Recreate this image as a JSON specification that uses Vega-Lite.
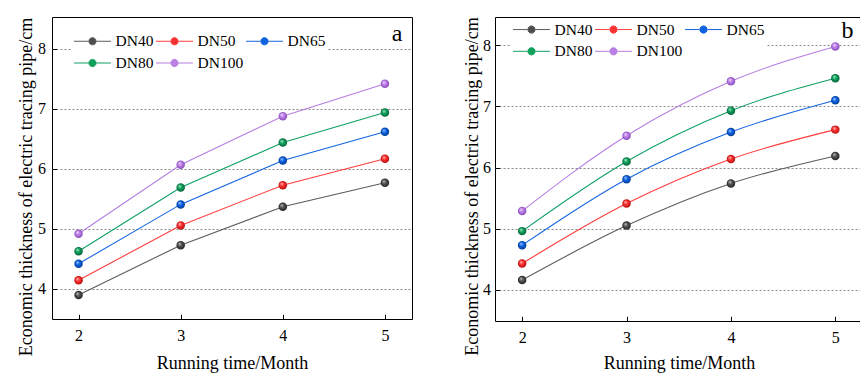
{
  "$schema": "https://vega.github.io/schema/vega-lite/v6.json",
  "padding": {"left": 17, "top": 16, "right": 0, "bottom": 0},
  "spacing": 50,
  "background": "white",
  "config": {
    "font": "Liberation Serif",
    "style": {"guide-label": {"font": "Liberation Serif"}, "guide-title": {"font": "Liberation Serif"}},
    "view": {"stroke": "#000", "strokeWidth": 1},
    "axis": {
      "domain": false,
      "labelFont": "Liberation Serif", "labelFontSize": 16, "labelColor": "#000",
      "titleFont": "Liberation Serif", "titleFontSize": 18, "titleFontWeight": "normal", "titleColor": "#000",
      "tickColor": "#000", "tickWidth": 1
    },
    "legend": {
      "labelFont": "Liberation Serif", "labelFontSize": 15.5, "labelColor": "#000", "labelFontWeight": "normal",
      "fillColor": "white", "padding": 2, "columnPadding": 0, "rowPadding": 5,
      "symbolSize": 210, "symbolOffset": 10.5, "labelOffset": 15, "symbolStrokeWidth": 1
    }
  },
  "datasets": {
    "a": [
      {"month": 2, "thickness": 3.9, "pipe": "DN40"}, {"month": 3, "thickness": 4.73, "pipe": "DN40"}, {"month": 4, "thickness": 5.37, "pipe": "DN40"}, {"month": 5, "thickness": 5.77, "pipe": "DN40"},
      {"month": 2, "thickness": 4.145, "pipe": "DN50"}, {"month": 3, "thickness": 5.06, "pipe": "DN50"}, {"month": 4, "thickness": 5.73, "pipe": "DN50"}, {"month": 5, "thickness": 6.17, "pipe": "DN50"},
      {"month": 2, "thickness": 4.42, "pipe": "DN65"}, {"month": 3, "thickness": 5.41, "pipe": "DN65"}, {"month": 4, "thickness": 6.14, "pipe": "DN65"}, {"month": 5, "thickness": 6.62, "pipe": "DN65"},
      {"month": 2, "thickness": 4.63, "pipe": "DN80"}, {"month": 3, "thickness": 5.69, "pipe": "DN80"}, {"month": 4, "thickness": 6.44, "pipe": "DN80"}, {"month": 5, "thickness": 6.94, "pipe": "DN80"},
      {"month": 2, "thickness": 4.92, "pipe": "DN100"}, {"month": 3, "thickness": 6.07, "pipe": "DN100"}, {"month": 4, "thickness": 6.88, "pipe": "DN100"}, {"month": 5, "thickness": 7.42, "pipe": "DN100"}
    ],
    "b": [
      {"month": 2, "thickness": 4.16, "pipe": "DN40"}, {"month": 3, "thickness": 5.05, "pipe": "DN40"}, {"month": 4, "thickness": 5.74, "pipe": "DN40"}, {"month": 5, "thickness": 6.19, "pipe": "DN40"},
      {"month": 2, "thickness": 4.43, "pipe": "DN50"}, {"month": 3, "thickness": 5.41, "pipe": "DN50"}, {"month": 4, "thickness": 6.14, "pipe": "DN50"}, {"month": 5, "thickness": 6.62, "pipe": "DN50"},
      {"month": 2, "thickness": 4.73, "pipe": "DN65"}, {"month": 3, "thickness": 5.81, "pipe": "DN65"}, {"month": 4, "thickness": 6.58, "pipe": "DN65"}, {"month": 5, "thickness": 7.10, "pipe": "DN65"},
      {"month": 2, "thickness": 4.96, "pipe": "DN80"}, {"month": 3, "thickness": 6.10, "pipe": "DN80"}, {"month": 4, "thickness": 6.93, "pipe": "DN80"}, {"month": 5, "thickness": 7.46, "pipe": "DN80"},
      {"month": 2, "thickness": 5.29, "pipe": "DN100"}, {"month": 3, "thickness": 6.52, "pipe": "DN100"}, {"month": 4, "thickness": 7.41, "pipe": "DN100"}, {"month": 5, "thickness": 7.98, "pipe": "DN100"}
    ]
  },
  "resolve": {"scale": {"color": "independent"}},
  "hconcat": [
    {
      "width": 360, "height": 302,
      "data": {"name": "a"},
      "encoding": {
        "x": {"field": "month", "type": "quantitative",
          "scale": {"domain": [1.74, 5.265], "nice": false, "zero": false},
          "axis": {"title": "Running time/Month", "values": [2, 2.5, 3, 3.5, 4, 4.5, 5], "format": "d",
            "labelExpr": "datum.value % 1 === 0 ? datum.label : ''", "grid": false,
            "labelFont": "Liberation Serif", "titleFont": "Liberation Serif",
            "tickSize": {"condition": {"test": "datum.value % 1 !== 0", "value": -2.5}, "value": -4.7},
            "labelPadding": 13, "titleY": 49, "titleBaseline": "alphabetic"}},
        "y": {"field": "thickness", "type": "quantitative",
          "scale": {"domain": [3.5, 8.533], "nice": false, "zero": false},
          "axis": {"title": "Economic thickness of electric tracing pipe/cm", "values": [4, 4.5, 5, 5.5, 6, 6.5, 7, 7.5, 8], "format": "d",
            "labelExpr": "datum.value % 1 === 0 ? datum.label : ''", "grid": true, "gridDash": [2, 2], "gridColor": "#888",
            "labelFont": "Liberation Serif", "titleFont": "Liberation Serif",
            "gridOpacity": {"condition": {"test": "datum.value % 1 !== 0", "value": 0}, "value": 1},
            "tickSize": {"condition": {"test": "datum.value % 1 !== 0", "value": -2.5}, "value": -4.5},
            "labelPadding": 11, "titleX": -20.5, "titleY": 169.5, "titleBaseline": "alphabetic", "titleAlign": "center"}}
      },
      "layer": [
        {"mark": {"type": "line", "strokeWidth": 1.1},
          "encoding": {"color": {"field": "pipe", "type": "nominal",
            "scale": {"domain": ["DN40", "DN50", "DN65", "DN80", "DN100"], "range": ["#5c5c5c", "#ff3c3c", "#1565e0", "#0fa062", "#b57ee0"]},
            "legend": {"orient": "none", "legendX": 20, "legendY": 14, "direction": "horizontal", "columns": 3, "title": null,
              "labelFont": "Liberation Serif",
              "symbolType": "M-2.55,0L-0.55,0M0.55,0L2.55,0M0.5,0A0.5,0.5,0,1,1,-0.5,0A0.5,0.5,0,1,1,0.5,0Z",
              "encode": {"symbols": {"update": {
                "fill": {"signal": "datum.value==='DN40'?'#4d4d4d':datum.value==='DN50'?'#f53333':datum.value==='DN65'?'#0f62e0':datum.value==='DN80'?'#10a05a':'#bb80e6'"},
                "stroke": {"signal": "datum.value==='DN40'?'#5c5c5c':datum.value==='DN50'?'#ff3c3c':datum.value==='DN65'?'#1565e0':datum.value==='DN80'?'#0fa062':'#b57ee0'"},
                "fillOpacity": {"value": 1}, "strokeWidth": {"value": 1}}},
                "labels": {"update": {"font": {"value": "Liberation Serif"}, "fontWeight": {"value": "normal"}}}}}}}},
        {"transform": [{"filter": "datum.pipe === 'DN40'"}], "mark": {"type": "point", "shape": "circle", "size": 72, "filled": true, "opacity": 1, "strokeWidth": 0,
          "fill": {"gradient": "radial", "x1": 0.35, "y1": 0.3, "r1": 0, "x2": 0.5, "y2": 0.5, "r2": 0.5, "stops": [{"offset": 0, "color": "#d0d0d0"}, {"offset": 0.45, "color": "#555555"}, {"offset": 1, "color": "#262626"}]}}},
        {"transform": [{"filter": "datum.pipe === 'DN50'"}], "mark": {"type": "point", "shape": "circle", "size": 72, "filled": true, "opacity": 1, "strokeWidth": 0,
          "fill": {"gradient": "radial", "x1": 0.35, "y1": 0.3, "r1": 0, "x2": 0.5, "y2": 0.5, "r2": 0.5, "stops": [{"offset": 0, "color": "#ffd0d0"}, {"offset": 0.45, "color": "#ff3434"}, {"offset": 1, "color": "#b80e0e"}]}}},
        {"transform": [{"filter": "datum.pipe === 'DN65'"}], "mark": {"type": "point", "shape": "circle", "size": 72, "filled": true, "opacity": 1, "strokeWidth": 0,
          "fill": {"gradient": "radial", "x1": 0.35, "y1": 0.3, "r1": 0, "x2": 0.5, "y2": 0.5, "r2": 0.5, "stops": [{"offset": 0, "color": "#bcd8ff"}, {"offset": 0.45, "color": "#0f66e8"}, {"offset": 1, "color": "#043c94"}]}}},
        {"transform": [{"filter": "datum.pipe === 'DN80'"}], "mark": {"type": "point", "shape": "circle", "size": 72, "filled": true, "opacity": 1, "strokeWidth": 0,
          "fill": {"gradient": "radial", "x1": 0.35, "y1": 0.3, "r1": 0, "x2": 0.5, "y2": 0.5, "r2": 0.5, "stops": [{"offset": 0, "color": "#b8f0d2"}, {"offset": 0.45, "color": "#13a660"}, {"offset": 1, "color": "#06633a"}]}}},
        {"transform": [{"filter": "datum.pipe === 'DN100'"}], "mark": {"type": "point", "shape": "circle", "size": 72, "filled": true, "opacity": 1, "strokeWidth": 0,
          "fill": {"gradient": "radial", "x1": 0.35, "y1": 0.3, "r1": 0, "x2": 0.5, "y2": 0.5, "r2": 0.5, "stops": [{"offset": 0, "color": "#f4e4ff"}, {"offset": 0.45, "color": "#bf84ea"}, {"offset": 1, "color": "#8a4cbc"}]}}},
        {"data": {"values": [{"month": 5.12, "thickness": 8.13, "panel": "a"}]},
          "mark": {"type": "text", "font": "Liberation Serif", "fontSize": 24, "align": "center", "baseline": "alphabetic", "color": "#000"},
          "encoding": {"text": {"field": "panel"}}}
      ]
    },
    {
      "width": 368, "height": 304,
      "data": {"name": "b"},
      "encoding": {
        "x": {"field": "month", "type": "quantitative",
          "scale": {"domain": [1.74, 5.265], "nice": false, "zero": false},
          "axis": {"title": "Running time/Month", "values": [2, 2.5, 3, 3.5, 4, 4.5, 5], "format": "d",
            "labelExpr": "datum.value % 1 === 0 ? datum.label : ''", "grid": false,
            "labelFont": "Liberation Serif", "titleFont": "Liberation Serif",
            "tickSize": {"condition": {"test": "datum.value % 1 !== 0", "value": -2.5}, "value": -4.7},
            "labelPadding": 13, "titleY": 47, "titleBaseline": "alphabetic"}},
        "y": {"field": "thickness", "type": "quantitative",
          "scale": {"domain": [3.49, 8.462], "nice": false, "zero": false},
          "axis": {"title": "Economic thickness of electric tracing pipe/cm", "values": [4, 4.5, 5, 5.5, 6, 6.5, 7, 7.5, 8], "format": "d",
            "labelExpr": "datum.value % 1 === 0 ? datum.label : ''", "grid": true, "gridDash": [2, 2], "gridColor": "#888",
            "labelFont": "Liberation Serif", "titleFont": "Liberation Serif",
            "gridOpacity": {"condition": {"test": "datum.value % 1 !== 0", "value": 0}, "value": 1},
            "tickSize": {"condition": {"test": "datum.value % 1 !== 0", "value": -2.5}, "value": -4.5},
            "labelPadding": 9, "titleX": -17.5, "titleY": 169, "titleBaseline": "alphabetic", "titleAlign": "center"}}
      },
      "layer": [
        {"mark": {"type": "line", "strokeWidth": 1.1, "interpolate": "monotone"},
          "encoding": {"color": {"field": "pipe", "type": "nominal",
            "scale": {"domain": ["DN40", "DN50", "DN65", "DN80", "DN100"], "range": ["#5c5c5c", "#ff3c3c", "#1565e0", "#0fa062", "#b57ee0"]},
            "legend": {"orient": "none", "legendX": 16, "legendY": 2.3, "direction": "horizontal", "columns": 3, "title": null,
              "labelFont": "Liberation Serif",
              "symbolType": "M-2.55,0L-0.55,0M0.55,0L2.55,0M0.5,0A0.5,0.5,0,1,1,-0.5,0A0.5,0.5,0,1,1,0.5,0Z",
              "encode": {"symbols": {"update": {
                "fill": {"signal": "datum.value==='DN40'?'#4d4d4d':datum.value==='DN50'?'#f53333':datum.value==='DN65'?'#0f62e0':datum.value==='DN80'?'#10a05a':'#bb80e6'"},
                "stroke": {"signal": "datum.value==='DN40'?'#5c5c5c':datum.value==='DN50'?'#ff3c3c':datum.value==='DN65'?'#1565e0':datum.value==='DN80'?'#0fa062':'#b57ee0'"},
                "fillOpacity": {"value": 1}, "strokeWidth": {"value": 1}}},
                "labels": {"update": {"font": {"value": "Liberation Serif"}, "fontWeight": {"value": "normal"}}}}}}}},
        {"transform": [{"filter": "datum.pipe === 'DN40'"}], "mark": {"type": "point", "shape": "circle", "size": 72, "filled": true, "opacity": 1, "strokeWidth": 0,
          "fill": {"gradient": "radial", "x1": 0.35, "y1": 0.3, "r1": 0, "x2": 0.5, "y2": 0.5, "r2": 0.5, "stops": [{"offset": 0, "color": "#d0d0d0"}, {"offset": 0.45, "color": "#555555"}, {"offset": 1, "color": "#262626"}]}}},
        {"transform": [{"filter": "datum.pipe === 'DN50'"}], "mark": {"type": "point", "shape": "circle", "size": 72, "filled": true, "opacity": 1, "strokeWidth": 0,
          "fill": {"gradient": "radial", "x1": 0.35, "y1": 0.3, "r1": 0, "x2": 0.5, "y2": 0.5, "r2": 0.5, "stops": [{"offset": 0, "color": "#ffd0d0"}, {"offset": 0.45, "color": "#ff3434"}, {"offset": 1, "color": "#b80e0e"}]}}},
        {"transform": [{"filter": "datum.pipe === 'DN65'"}], "mark": {"type": "point", "shape": "circle", "size": 72, "filled": true, "opacity": 1, "strokeWidth": 0,
          "fill": {"gradient": "radial", "x1": 0.35, "y1": 0.3, "r1": 0, "x2": 0.5, "y2": 0.5, "r2": 0.5, "stops": [{"offset": 0, "color": "#bcd8ff"}, {"offset": 0.45, "color": "#0f66e8"}, {"offset": 1, "color": "#043c94"}]}}},
        {"transform": [{"filter": "datum.pipe === 'DN80'"}], "mark": {"type": "point", "shape": "circle", "size": 72, "filled": true, "opacity": 1, "strokeWidth": 0,
          "fill": {"gradient": "radial", "x1": 0.35, "y1": 0.3, "r1": 0, "x2": 0.5, "y2": 0.5, "r2": 0.5, "stops": [{"offset": 0, "color": "#b8f0d2"}, {"offset": 0.45, "color": "#13a660"}, {"offset": 1, "color": "#06633a"}]}}},
        {"transform": [{"filter": "datum.pipe === 'DN100'"}], "mark": {"type": "point", "shape": "circle", "size": 72, "filled": true, "opacity": 1, "strokeWidth": 0,
          "fill": {"gradient": "radial", "x1": 0.35, "y1": 0.3, "r1": 0, "x2": 0.5, "y2": 0.5, "r2": 0.5, "stops": [{"offset": 0, "color": "#f4e4ff"}, {"offset": 0.45, "color": "#bf84ea"}, {"offset": 1, "color": "#8a4cbc"}]}}},
        {"data": {"values": [{"month": 5.117, "thickness": 8.124, "panel": "b"}]},
          "mark": {"type": "text", "font": "Liberation Serif", "fontSize": 24, "align": "center", "baseline": "alphabetic", "color": "#000"},
          "encoding": {"text": {"field": "panel"}}}
      ]
    }
  ]
}
